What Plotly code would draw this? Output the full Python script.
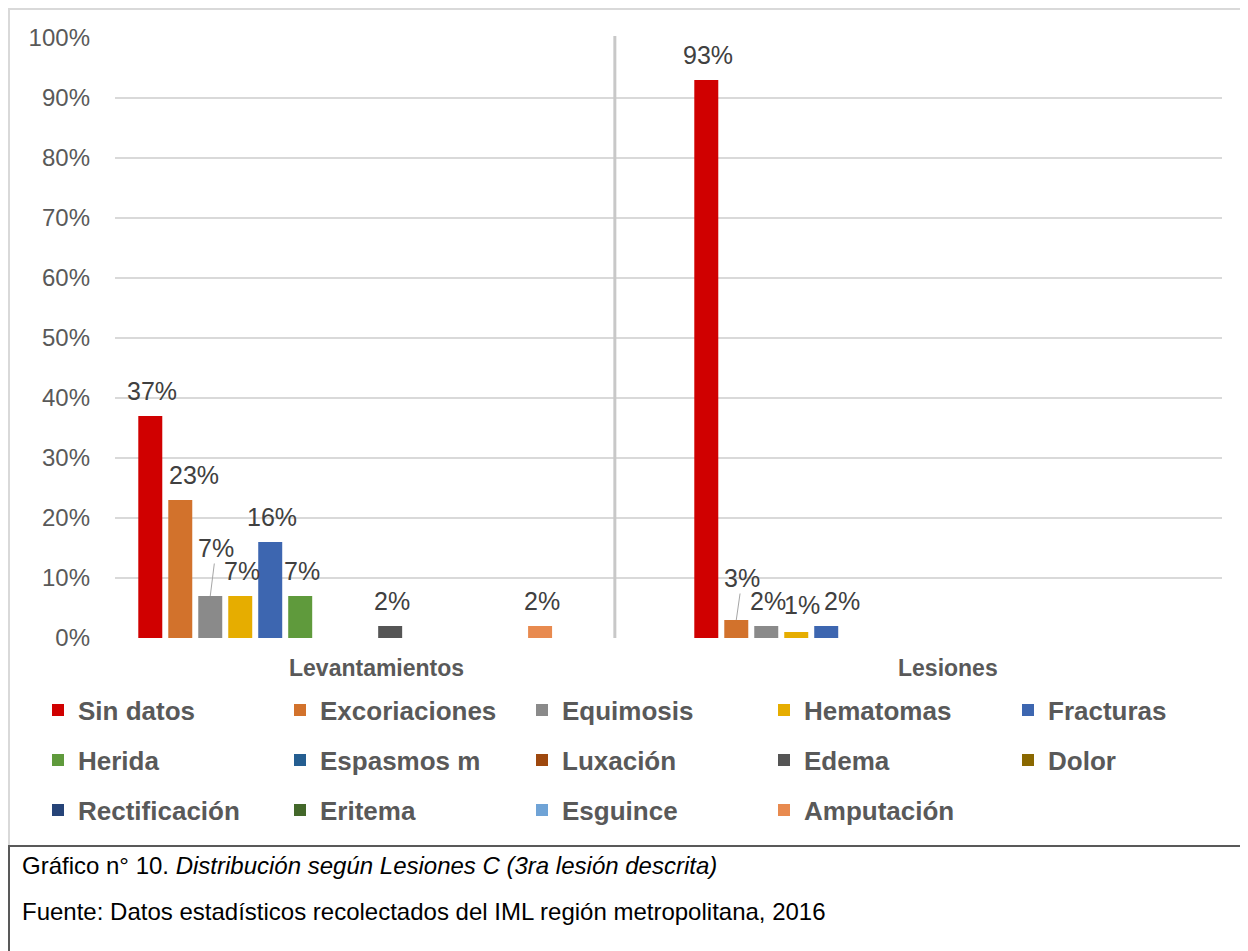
import plotly.graph_objects as go

categories = ["Levantamientos", "Lesiones"]
series = ["Sin datos", "Excoriaciones", "Equimosis", "Hematomas", "Fracturas",
          "Herida", "Espasmos m", "Luxación", "Edema", "Dolor",
          "Rectificación", "Eritema", "Esguince", "Amputación"]
levantamientos = [37, 23, 7, 7, 16, 7, 0, 0, 2, 0, 0, 0, 0, 2]
lesiones = [93, 3, 2, 1, 2, 0, 0, 0, 0, 0, 0, 0, 0, 0]
colors = ["#d00000", "#d2722c", "#8a8a8a", "#e6ad00", "#3d66b0",
          "#5f9a3c", "#255e91", "#9e480e", "#555555", "#8a6800",
          "#264478", "#43682b", "#6fa3d6", "#e88a4f"]

FONT = "Liberation Sans, Arial, sans-serif"
OFF = 8  # page body margin
W, H = 1248 - OFF, 951 - OFF
L, R, T, B = 115 - OFF, 26, 38 - OFF, 313
BARGAP = 0.245
n = len(series)

# reference-pixel -> paper helpers for decorations
def px(x):
    return (x - OFF - L) / (W - L - R)

def py(y):
    return (H - B - (y - OFF)) / (H - T - B)

# legend rows of 4, the fifth column gets its own legend so rows never wrap
def legend_of(i):
    row, col = divmod(i, 5)
    if col == 4:
        return ["legend4", "legend5"][row]
    return ["legend", "legend2", "legend3"][row]

fig = go.Figure()
for i, name in enumerate(series):
    fig.add_trace(go.Bar(
        x=categories,
        y=[levantamientos[i], lesiones[i]],
        name=name,
        marker=dict(color=colors[i], line=dict(width=0)),
        legend=legend_of(i),
        hoverinfo="name+y",
    ))

# label placement tweaks: (category, series) -> (xshift, yshift, leader line)
nudges = {
    (0, 1): (14, 25, False),
    (0, 2): (6, -48, True),
    (1, 1): (6, -42, True),
    (1, 3): (6, 27, False),
    (1, 4): (16, 25, False),
}

slot = (1 - BARGAP) / n
annotations = []
for ci, vals in enumerate([levantamientos, lesiones]):
    for i, v in enumerate(vals):
        if not v:
            continue
        xpos = ci - (1 - BARGAP) / 2 + (i + 0.5) * slot
        dx, dy, leader = nudges.get((ci, i), (2, 25, False))
        a = dict(x=xpos, y=v, xref="x", yref="y", text=f"{v}%",
                 font=dict(family=FONT, size=25, color="#404040"))
        if leader:
            a.update(showarrow=True, ax=dx, ay=dy, arrowhead=0, arrowwidth=1,
                     arrowcolor="#a6a6a6", standoff=0)
        else:
            a.update(showarrow=False, yanchor="middle", xshift=dx, yshift=dy)
        annotations.append(a)

# category labels
for xpos, cat in [(0.057, categories[0]), (1.084, categories[1])]:
    annotations.append(dict(x=xpos, y=py(668), xref="x", yref="paper", yanchor="middle",
                            text=f"<b>{cat}</b>", showarrow=False,
                            font=dict(family=FONT, size=23, color="#595959")))

# caption
annotations.append(dict(x=px(20), y=py(866), xref="paper", yref="paper",
                        xanchor="left", yanchor="middle",
                        text="Gráfico n° 10. <i>Distribución según Lesiones C (3ra lesión descrita)</i>",
                        showarrow=False, font=dict(family=FONT, size=24, color="#000000")))
annotations.append(dict(x=px(20), y=py(912), xref="paper", yref="paper",
                        xanchor="left", yanchor="middle",
                        text="Fuente: Datos estadísticos recolectados del IML región metropolitana, 2016",
                        showarrow=False, font=dict(family=FONT, size=24, color="#000000")))

shapes = [
    dict(type="rect", xref="paper", yref="paper", x0=px(9), x1=px(1260), y0=py(846), y1=py(9),
         line=dict(color="#d9d9d9", width=2), layer="below"),
    dict(type="rect", xref="paper", yref="paper", x0=px(9), x1=px(1260), y0=py(960), y1=py(846),
         line=dict(color="#595959", width=2)),
    dict(type="line", xref="x", yref="paper", x0=0.485, x1=0.485, y0=0, y1=py(36),
         line=dict(color="#c8c8c8", width=3)),
]

legend_font = dict(family=FONT, size=26, color="#595959", weight="bold")
row_style = dict(orientation="h", xanchor="left", yanchor="middle",
                 entrywidth=197, entrywidthmode="pixels", bgcolor="rgba(0,0,0,0)",
                 font=legend_font)
col_style = dict(orientation="h", xanchor="left", yanchor="middle",
                 bgcolor="rgba(0,0,0,0)", font=legend_font)

fig.update_layout(
    width=W, height=H,
    margin=dict(l=L, r=R, t=T, b=B),
    paper_bgcolor="white", plot_bgcolor="white",
    barmode="group", bargap=BARGAP, bargroupgap=0.2,
    font=dict(family=FONT, color="#595959"),
    xaxis=dict(type="category", range=[-0.414, 1.577], showticklabels=False,
               showgrid=False, zeroline=False, showline=False, fixedrange=True),
    yaxis=dict(range=[0, 100], dtick=10, ticksuffix="%", showgrid=True,
               gridcolor="#d9d9d9", gridwidth=2, zeroline=False, showline=False,
               ticks="", ticklabelstandoff=24,
               tickfont=dict(family=FONT, size=24, color="#595959")),
    legend=dict(x=px(38), y=py(710), **row_style),
    legend2=dict(x=px(38), y=py(760), **row_style),
    legend3=dict(x=px(38), y=py(810), **row_style),
    legend4=dict(x=px(1008), y=py(710), **col_style),
    legend5=dict(x=px(1008), y=py(760), **col_style),
    annotations=annotations,
    shapes=shapes,
)

fig.write_html("out.html")
